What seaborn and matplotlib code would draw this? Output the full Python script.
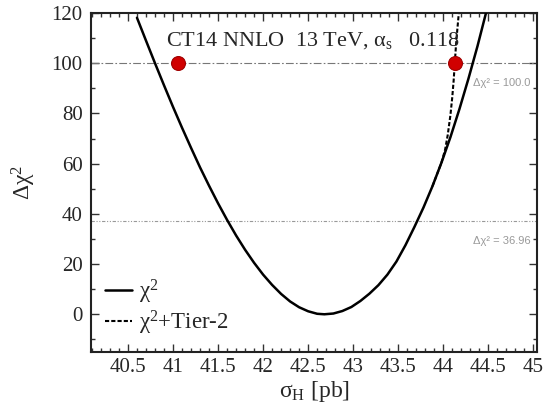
"""
chi2 scan of the Higgs cross section (CT14 NNLO, 13 TeV) -> out.png
"""

import matplotlib
import matplotlib.pyplot as plt
from matplotlib.ticker import MultipleLocator, FuncFormatter
import seaborn as sns

# ---- data ----
# chi2 curve: sigma_H [pb] vs delta chi2
SIGMA = [40.60, 40.70, 40.80, 40.90, 41.00, 41.10, 41.20, 41.30, 41.40,
         41.50, 41.60, 41.70, 41.80, 41.90, 42.00, 42.10, 42.20, 42.30,
         42.40, 42.50, 42.60, 42.68, 42.78, 42.88, 42.98, 43.08, 43.18,
         43.28, 43.38, 43.48, 43.58, 43.68, 43.78, 43.88, 43.98, 44.08,
         44.18, 44.28, 44.38, 44.48]
DCHI2 = [118.1, 109.0, 100.0, 91.2, 82.6, 74.3, 66.3, 58.5, 51.2,
         44.2, 37.6, 31.4, 25.7, 20.5, 15.8, 11.7, 8.1, 5.1,
         2.8, 1.2, 0.2, 0.0, 0.3, 1.3, 2.9, 5.3, 8.2,
         11.6, 15.8, 21.0, 27.5, 34.8, 42.5, 51.0, 60.4, 70.6,
         81.8, 93.9, 106.8, 120.8]

# chi2 + Tier-2 (only differs on the upper right branch)
SIGMA_T2 = [43.88, 43.98, 44.02, 44.05, 44.08, 44.10, 44.115,
            44.128, 44.14, 44.155, 44.17, 44.175]
DCHI2_T2 = [51.0, 60.4, 65.5, 71.5, 79.5, 86.5, 93.0,
            100.0, 106.5, 113.0, 119.0, 121.0]

# points where delta chi2 = 100
PTS_SIGMA = [41.05, 44.13]
PTS_DCHI2 = [100.0, 100.0]

LEVELS = [100.0, 36.96]
LEVEL_LABELS = ["\u0394\u03c7\u00b2 = 100.0", "\u0394\u03c7\u00b2 = 36.96"]

TITLE = r"CT14 NNLO  13 TeV, $\alpha_{\rm s}$   0.118"

sns.set_style("ticks")
matplotlib.rcParams["font.family"] = ["Liberation Serif", "DejaVu Serif"]
matplotlib.rcParams["mathtext.fontset"] = "custom"
matplotlib.rcParams["mathtext.rm"] = "Liberation Serif"
matplotlib.rcParams["mathtext.it"] = "Liberation Serif:italic"
matplotlib.rcParams["mathtext.default"] = "rm"

fig = plt.figure(figsize=(5.53, 4.05), dpi=100)
ax = fig.add_axes([0.1646, 0.131, 0.8064, 0.837])

# reference levels
ax.axhline(LEVELS[0], color="#777777", lw=0.8, ls=(0, (7, 2, 1.5, 2)), zorder=1)
ax.axhline(LEVELS[1], color="#999999", lw=0.8, ls=(0, (3, 1.5, 1, 1.5, 1, 1.5)), zorder=1)
for lev, lab, yoff in zip(LEVELS, LEVEL_LABELS, [-7.7, -7.6]):
    ax.text(44.97, lev + yoff, lab, ha="right", va="center", fontsize=8,
            color="#999999", family="Liberation Sans")

sns.lineplot(x=SIGMA_T2, y=DCHI2_T2, ax=ax, color="black", lw=1.5,
             sort=False, estimator=None, linestyle=(0, (2.0, 1.0)),
             label=r"$\chi^2$+Tier-2", zorder=2)
sns.lineplot(x=SIGMA, y=DCHI2, ax=ax, color="black", lw=1.8,
             sort=False, estimator=None, label=r"$\chi^2$", zorder=3)
sns.scatterplot(x=PTS_SIGMA, y=PTS_DCHI2, ax=ax, s=100, color="#d00000",
                edgecolor="#a00000", linewidth=0.8, zorder=4)

ax.text(40.92, 107.0, TITLE, fontsize=16, ha="left", va="baseline")

ax.set_xlim(40.09, 45.04)
ax.set_ylim(-15, 120)
ax.xaxis.set_major_locator(MultipleLocator(0.5))
ax.xaxis.set_minor_locator(MultipleLocator(0.1))
ax.yaxis.set_major_locator(MultipleLocator(20))
ax.yaxis.set_minor_locator(MultipleLocator(10))
ax.xaxis.set_major_formatter(FuncFormatter(lambda v, p: f"{v:g}"))
ax.tick_params(which="both", direction="in", top=True, right=True,
               labelsize=15, width=1.0, color="#333333")
ax.tick_params(which="major", length=6)
ax.tick_params(which="minor", length=3)
ax.tick_params(axis="y", pad=6)
ax.tick_params(axis="x", pad=4.5)
for sp in ax.spines.values():
    sp.set_linewidth(1.5)
    sp.set_color("#222222")

ax.set_xlabel(r"$\sigma_{\rm H}$ [pb]", fontsize=17, labelpad=1)
ax.set_ylabel(r"$\Delta\chi^2$", fontsize=17, labelpad=10)

handles, labels = ax.get_legend_handles_labels()
leg = ax.legend(handles[::-1][:2], labels[::-1][:2], loc="lower left",
                frameon=False, fontsize=16.5, handlelength=1.2,
                handletextpad=0.3, labelspacing=0.1,
                bbox_to_anchor=(0.0, 0.005), borderaxespad=0.2)

fig.savefig("out.png", dpi=100)
